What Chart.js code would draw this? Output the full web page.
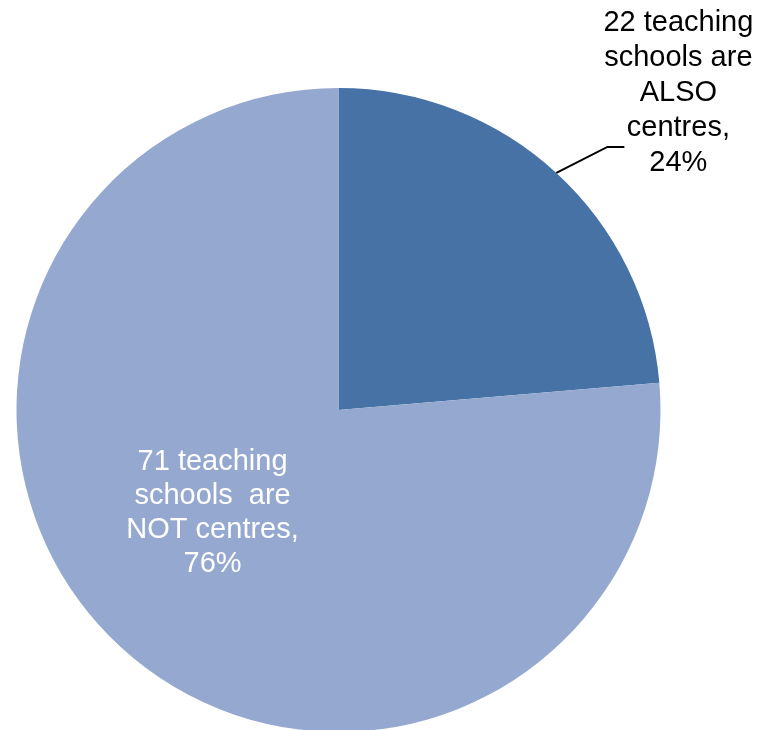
<!DOCTYPE html>
<html>
<head>
<meta charset="utf-8">
<script src="https://cdn.jsdelivr.net/npm/chart.js@4"></script>
<style>
    html, body { margin: 0; padding: 0; background: #ffffff; overflow: hidden; }
    #wrap { width: 759px; height: 734px; position: relative; }
</style>
</head>
<body>
<div id="wrap"><canvas id="pieChart"></canvas></div>
<script>
// Chart data
const categories = ['ALSO centres', 'NOT centres'];
const counts = [22, 71];
const percents = ['24%', '76%'];
const sliceColors = ['#4672A6', '#95A9D0'];
const labelLines = [
    ['22 teaching', 'schools are', 'ALSO', 'centres,', '24%'],
    ['71 teaching', 'schools  are', 'NOT centres,', '76%']
];

const FONT = '29px "Liberation Sans", Arial, sans-serif';
const LINE_H = 34;

// Draws the two data labels (one outside with a leader line, one inside)
const labelPlugin = {
    id: 'sliceLabels',
    afterDatasetsDraw(chart) {
        const ctx = chart.ctx;
        const meta = chart.getDatasetMeta(0);
        ctx.save();
        ctx.font = FONT;
        ctx.textAlign = 'center';
        ctx.textBaseline = 'middle';

        // outside label for the small slice
        const arc = meta.data[0];
        const mid = (arc.startAngle + arc.endAngle) / 2;
        const x0 = arc.x + Math.cos(mid) * arc.outerRadius;
        const y0 = arc.y + Math.sin(mid) * arc.outerRadius;
        const x1 = x0 + 51, y1 = y0 - 26;
        const x2 = x1 + 17;
        ctx.strokeStyle = '#000000';
        ctx.lineWidth = 2;
        ctx.beginPath();
        ctx.moveTo(x0, y0);
        ctx.lineTo(x1, y1);
        ctx.lineTo(x2, y1);
        ctx.stroke();
        ctx.fillStyle = '#000000';
        labelLines[0].forEach((line, i) => {
            ctx.fillText(line, x2 + 54, y1 - 124 + i * 35);
        });

        // inside label for the big slice
        const big = meta.data[1];
        const pos = big.tooltipPosition();
        ctx.fillStyle = '#ffffff';
        const n = labelLines[1].length;
        labelLines[1].forEach((line, i) => {
            ctx.fillText(line, pos.x - 17, pos.y - 16 + (i - (n - 1) / 2) * LINE_H);
        });
        ctx.restore();
    }
};

new Chart(document.getElementById('pieChart'), {
    type: 'pie',
    data: {
        labels: categories,
        datasets: [{
            data: counts,
            backgroundColor: sliceColors,
            borderWidth: 0,
            hoverOffset: 0
        }]
    },
    options: {
        responsive: true,
        maintainAspectRatio: false,
        animation: false,
        layout: {
            padding: { left: 16, right: 98, top: 88, bottom: 2 }
        },
        plugins: {
            legend: { display: false },
            tooltip: { enabled: false }
        }
    },
    plugins: [labelPlugin]
});
</script>
</body>
</html>
